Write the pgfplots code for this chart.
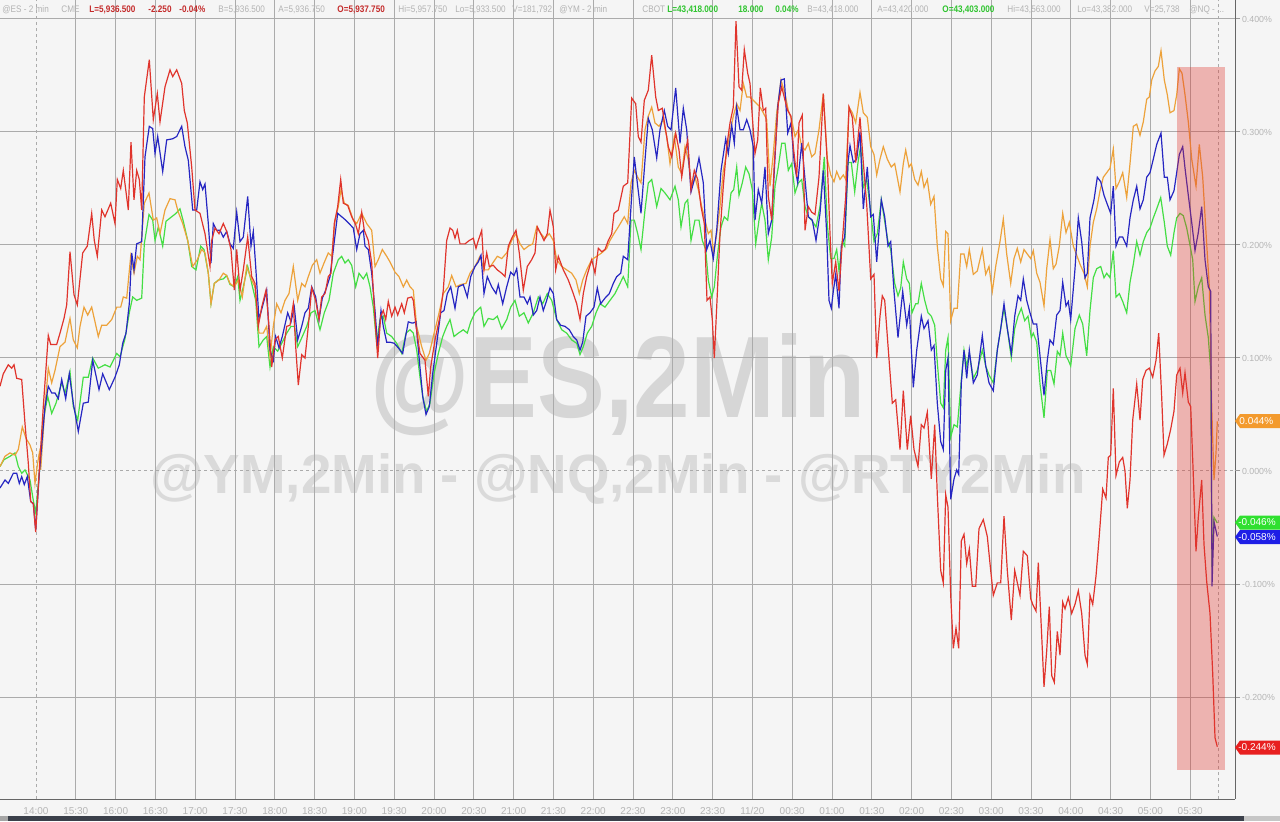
\documentclass[border=0pt]{standalone}
\usepackage{pgfplots}
\pgfplotsset{compat=1.18}
\usepackage{fontspec}
\setmainfont{Liberation Sans}
\definecolor{bg}{HTML}{F5F5F5}
\definecolor{gridc}{HTML}{ABABAB}
\definecolor{lblc}{HTML}{B5B5B5}
\definecolor{esred}{HTML}{E0342C}
\definecolor{rtyor}{HTML}{EDA23A}
\definecolor{nqblue}{HTML}{2626C2}
\definecolor{ymgreen}{HTML}{44DE44}
\definecolor{wm}{HTML}{D6D6D6}
\definecolor{wmb}{HTML}{DADADA}
\definecolor{hdrgray}{HTML}{B3B3B3}
\definecolor{hdrred}{HTML}{C42B2B}
\definecolor{hdrgreen}{HTML}{2FC42F}
\definecolor{barc}{HTML}{3B404A}
\definecolor{boxor}{HTML}{F39A2D}
\definecolor{boxgr}{HTML}{2FE02F}
\definecolor{boxbl}{HTML}{1E1EE6}
\definecolor{boxrd}{HTML}{E82020}
\newcommand{\hd}[1]{\scalebox{0.86}[1]{#1}}
\begin{document}
\begin{tikzpicture}
\path[use as bounding box] (0,0) rectangle (640pt,-410.5pt);
\begin{scope}[x=0.5pt,y=-0.5pt]
\fill[bg] (0,0) rectangle (1280,821);
\fill[barc] (8,816) rectangle (1244,821);
\fill[gray!70] (0,816) rectangle (8,821);
\fill[gray!45] (1244,816) rectangle (1280,821);
\node[anchor=base west, inner sep=0, text=wm] at (370,417) {\resizebox{247.5pt}{42pt}{\bfseries @ES,2Min}};
\node[anchor=base west, inner sep=0, text=wmb] at (150,493) {\resizebox{467.5pt}{20pt}{\bfseries @YM,2Min - @NQ,2Min - @RTY2Min}};
\end{scope}
\begin{axis}[
  at={(0pt,0pt)}, anchor=north west,
  x=0.5pt, y=565pt,
  xmin=0, xmax=1235, ymin=-0.2903, ymax=0.4168,
  axis x line*=bottom, axis y line*=right,
  axis line style={draw=black!60, line width=0.5pt},
  xtick={75.8,115.6,155.4,195.2,235,274.8,314.6,354.4,394.2,434,473.8,513.6,553.4,593.2,633,672.8,712.6,752.4,792.2,832,871.8,911.6,951.4,991.2,1031,1070.8,1110.6,1150.4,1190.2},
  xticklabels={15:30,16:00,16:30,17:00,17:30,18:00,18:30,19:00,19:30,20:00,20:30,21:00,21:30,22:00,22:30,23:00,23:30,11/20,00:30,01:00,01:30,02:00,02:30,03:00,03:30,04:00,04:30,05:00,05:30},
  extra x ticks={36,1218},
  extra x tick labels={14:00,{}},
  extra x tick style={grid style={dash pattern=on 1.5pt off 1.5pt}},
  ytick={-0.2,-0.1,0.1,0.2,0.3,0.4},
  yticklabels={-0.200\%,-0.100\%,0.100\%,0.200\%,0.300\%,0.400\%},
  extra y ticks={0},
  extra y tick labels={0.000\%},
  extra y tick style={grid style={dash pattern=on 1.5pt off 1.5pt}},
  grid=major,
  major grid style={draw=gridc, line width=0.5pt},
  tick align=outside, major tick length=2.5pt,
  xtick style={draw=none},
  ytick style={draw=black!40, line width=0.5pt},
  x tick label style={font=\fontsize{5}{6}\selectfont, text=lblc, yshift=2pt},
  y tick label style={font=\fontsize{4.4}{5}\selectfont, text=lblc, anchor=west, xshift=-2.5pt},
  every axis plot/.append style={line width=0.6pt, mark=none},
]
\addplot[ymgreen] coordinates {(0,0.004) (4,0.01) (10,0.013) (15,0.016) (18.3,0.004) (21.7,-0.002) (25,0.001) (30,-0.008) (33.3,-0.026) (35.7,-0.037) (39.3,-0.002) (43.3,0.045) (47.7,0.066) (51.7,0.051) (56,0.06) (61.7,0.078) (65,0.069) (70,0.088) (73.3,0.057) (77.7,0.045) (83.3,0.083) (88.3,0.083) (92.7,0.1) (98.3,0.091) (105,0.094) (110,0.092) (116.7,0.104) (120,0.101) (125,0.117) (129.3,0.14) (132.7,0.154) (136.7,0.151) (141.7,0.153) (144.3,0.201) (149,0.227) (152.7,0.222) (155,0.204) (158.3,0.216) (162.7,0.199) (166,0.221) (171.7,0.225) (176,0.228) (180,0.232) (183.3,0.221) (187.7,0.204) (191.7,0.181) (196,0.178) (200.7,0.199) (204,0.196)
(208.3,0.175) (211,0.148) (214.3,0.166) (218.3,0.169) (223.3,0.17) (226.7,0.173) (230,0.165) (234.3,0.163) (237.7,0.172) (240,0.151) (243.3,0.163) (247.7,0.181) (251.7,0.166) (255.7,0.151) (259,0.11) (263.3,0.116) (266.7,0.119) (270,0.092) (273.3,0.11) (277.7,0.106) (282.3,0.114) (286.7,0.122) (291,0.128) (294.3,0.128) (297.7,0.11) (302.3,0.119) (306.7,0.128) (311,0.14) (315,0.142) (320,0.125) (324.3,0.14) (329,0.151) (333.3,0.175) (338.3,0.187) (341.7,0.19) (345,0.184) (348.3,0.187) (351.7,0.182) (355.7,0.163) (359,0.175) (363.3,0.17) (366.7,0.175) (370,0.163) (373.3,0.145) (376.7,0.113) (380,0.134) (383.3,0.137) (386.7,0.122) (391.7,0.119) (396.7,0.113) (401.7,0.104) (406,0.122) (410,0.125) (413.3,0.122)
(416.7,0.107) (420,0.083) (423.3,0.063) (426.7,0.053) (430,0.06) (434,0.086) (438.3,0.104) (442.7,0.119) (446.7,0.128) (450,0.134) (454,0.119) (458.3,0.122) (463.3,0.125) (467.3,0.122) (470.7,0.132) (475,0.14) (480.7,0.145) (484,0.128) (488.3,0.135) (493.3,0.134) (497.3,0.137) (501.7,0.126) (506.7,0.134) (510.7,0.145) (515,0.151) (519.3,0.137) (524,0.14) (528.3,0.131) (533.3,0.14) (538.3,0.154) (542.7,0.148) (547.3,0.157) (551.7,0.151) (556.7,0.134) (561.7,0.125) (566.7,0.122) (571.7,0.116) (576.7,0.113) (580,0.103) (583.3,0.11) (587.3,0.122) (591.7,0.128) (596,0.14) (600,0.148) (605,0.145) (610,0.151) (615,0.157) (620,0.166)
(623.3,0.172) (627.7,0.163) (631,0.222) (634.3,0.222) (637.7,0.21) (641,0.196) (645,0.231) (648.3,0.255) (651.7,0.258) (654.3,0.246) (656.7,0.234) (661,0.25) (665,0.246) (670,0.24) (675,0.252) (678.3,0.24) (681,0.216) (685,0.237) (687.7,0.24) (691,0.204) (695,0.222) (699,0.222) (702.3,0.204) (705.7,0.196) (708.3,0.169) (711.7,0.154) (714.3,0.163) (717.7,0.193) (721,0.216) (724.3,0.225) (727.7,0.222) (731,0.246) (733.7,0.249) (736.7,0.269) (739,0.244) (742.3,0.255) (745.7,0.269) (749,0.263) (752.3,0.249) (755.7,0.201) (759,0.222) (761.7,0.237) (765,0.222) (768.3,0.187) (771.7,0.207) (775,0.252) (778.3,0.269) (781.7,0.29) (785,0.29) (788.3,0.266) (791.7,0.272) (795,0.246) (798.3,0.255) (801.7,0.258) (805,0.234) (808.3,0.225) (811.7,0.222) (816,0.216) (820,0.234) (824.3,0.278)
(827.3,0.218) (830.7,0.188) (834,0.188) (836.7,0.196) (839,0.177) (842.3,0.203) (844.7,0.199) (848,0.273) (851.3,0.273) (854.7,0.247) (858,0.273) (860.7,0.288) (863.3,0.251) (866.7,0.258) (870.7,0.229) (874,0.203) (877.3,0.21) (881.3,0.24) (884.7,0.221) (888,0.203) (890.7,0.196) (894.7,0.166) (898,0.155) (900.7,0.162) (903.3,0.185) (906.7,0.17) (909.3,0.166) (912,0.14) (915.7,0.148) (918,0.148) (921.3,0.166) (924.7,0.151) (928,0.14) (931.3,0.137) (934.7,0.129) (937.3,0.096) (940.7,0.06) (943.3,0.056) (945.7,0.107) (948,0.118) (950.7,0.03) (954,0.041) (957.3,0.039) (960.7,0.074) (964,0.107) (966.7,0.093) (969.3,0.104) (973.3,0.082) (977.3,0.089) (982.3,0.107) (985.7,0.093) (989,0.085) (993.3,0.078) (997.3,0.107) (1000.7,0.126) (1004,0.144) (1007.3,0.126) (1011.3,0.1) (1014.7,0.126) (1018,0.137) (1021.3,0.144) (1024.7,0.133) (1028,0.137) (1031.3,0.118)
(1033.3,0.122) (1036.7,0.114) (1040,0.077) (1044,0.047) (1047.3,0.089) (1050.7,0.089) (1054,0.077) (1057.3,0.106) (1060,0.102) (1062.7,0.122) (1066,0.102) (1068.3,0.098) (1070.7,0.093) (1075,0.126) (1079.3,0.138) (1082.7,0.13) (1086.7,0.102) (1090,0.142) (1093.3,0.171) (1096.7,0.179) (1100.7,0.181) (1104,0.171) (1106.7,0.175) (1110,0.171) (1113.3,0.195) (1116,0.154) (1119.3,0.157) (1122.7,0.15) (1126.7,0.14) (1130,0.167) (1133.3,0.183) (1136.7,0.203) (1140,0.191) (1143.3,0.203) (1146.7,0.211) (1150,0.215) (1153.3,0.224) (1156.7,0.232) (1160.7,0.242) (1164.3,0.22) (1167.3,0.199) (1170.7,0.191) (1174,0.211) (1176.7,0.224) (1180,0.228) (1183.3,0.226) (1186.7,0.215) (1189.3,0.203) (1192.7,0.187) (1195,0.15) (1198.3,0.163) (1201.7,0.171) (1205,0.138) (1208.3,0.118) (1210.7,0.089) (1212,-0.085) (1214,-0.041) (1217.3,-0.046)};
\addplot[rtyor] coordinates {(0,0.004) (5,0.013) (10,0.016) (15,0.014) (18.3,0.019) (22.3,0.039) (26,0.029) (30,0.023) (32.7,0.016) (35,-0.011) (37.3,0.005) (39.3,0.016) (40.7,0.001) (45,0.057) (48.3,0.091) (51.7,0.078) (55,0.089) (60,0.11) (65,0.114) (70,0.135) (73.3,0.116) (77.3,0.109) (80,0.128) (84,0.145) (87.7,0.138) (91.7,0.145) (98.3,0.119) (101.7,0.129) (106.7,0.129) (111.7,0.134) (116.7,0.145) (120.7,0.145) (123.3,0.154) (126.7,0.153) (130.7,0.19) (134,0.175) (137.3,0.19) (140,0.187) (144.3,0.237) (149,0.246) (153.3,0.222) (156.7,0.224) (160,0.21) (165,0.231) (170,0.241) (175,0.24) (178.3,0.229) (182.7,0.219) (187.7,0.204) (192.7,0.181) (197.3,0.187) (201.7,0.196) (205,0.193)
(208.3,0.175) (211,0.148) (214.3,0.166) (219,0.169) (223.3,0.175) (226.7,0.173) (230,0.166) (234.3,0.163) (238.3,0.169) (242.3,0.154) (246.7,0.181) (251.7,0.169) (255,0.163) (259,0.122) (263.3,0.122) (266.7,0.128) (270,0.101) (273.3,0.128) (276.7,0.148) (281,0.14) (285,0.151) (289,0.157) (293.3,0.181) (297.7,0.151) (301.7,0.166) (305,0.163) (308.3,0.172) (312.3,0.182) (316.7,0.187) (320,0.175) (324,0.184) (328.3,0.193) (331.7,0.19) (335,0.222) (338.3,0.234) (341,0.249) (344.3,0.237) (348.3,0.235) (353.3,0.222) (356.7,0.219) (361.7,0.228) (366.7,0.219) (371.7,0.213) (375,0.181) (378.3,0.187) (382.3,0.196) (386.7,0.19) (390,0.185) (395,0.176) (399,0.172) (403.3,0.163) (406.7,0.169) (410,0.163) (413.3,0.16)
(416.7,0.128) (421.7,0.11) (426,0.098) (429.3,0.104) (433.3,0.119) (438.3,0.137) (443.3,0.157) (448.3,0.163) (451.7,0.173) (456,0.163) (460.7,0.165) (466,0.166) (470,0.175) (475,0.181) (480,0.19) (484,0.178) (488.3,0.178) (492.7,0.184) (497.3,0.19) (501.7,0.188) (506.7,0.193) (511.7,0.204) (516,0.21) (520,0.201) (524,0.196) (528.3,0.199) (532.7,0.201) (536.7,0.216) (540.7,0.21) (545,0.206) (549.3,0.21) (553.3,0.204) (556.7,0.187) (561.7,0.181) (566.7,0.178) (571.7,0.175) (576,0.169) (579.3,0.157) (582.7,0.169) (586.7,0.178) (591.7,0.187) (596.7,0.19) (601.7,0.193) (606.7,0.197) (610,0.204) (614,0.21) (618.3,0.216)
(624.3,0.225) (627.7,0.219) (631,0.255) (634.3,0.266) (637.7,0.26) (641,0.255) (645,0.302) (648.3,0.314) (651.7,0.322) (655,0.308) (659,0.305) (663.3,0.311) (666.7,0.296) (670,0.272) (674.3,0.296) (678.3,0.269) (681.7,0.263) (685,0.287) (688.3,0.275) (691.7,0.252) (695,0.26) (698.3,0.249) (701.7,0.234) (705,0.222) (708.3,0.21) (711,0.213) (713.7,0.193) (716.7,0.21) (720,0.234) (723.3,0.266) (726.7,0.281) (730,0.299) (733.3,0.314) (736.7,0.325) (740,0.319) (743.3,0.343) (746.7,0.331) (750,0.331) (753.3,0.328) (756.7,0.325) (760,0.322) (763.3,0.317) (766.7,0.311) (770,0.252) (773.3,0.281) (776.7,0.317) (781,0.346) (785,0.334) (788.3,0.319) (791.7,0.311) (795,0.296) (798.3,0.302) (801.7,0.287) (805,0.284) (808.3,0.29) (811.7,0.278) (815,0.281) (819,0.302) (823.3,0.334)
(827.3,0.276) (830.7,0.262) (834,0.256) (836.7,0.265) (840,0.258) (843.3,0.262) (845.7,0.258) (849,0.322) (852.3,0.317) (855.7,0.308) (860,0.335) (863.3,0.317) (867.3,0.313) (870.7,0.287) (874,0.28) (876.7,0.262) (880,0.276) (883.3,0.287) (887.3,0.276) (891.3,0.269) (894.7,0.272) (900,0.247) (903.3,0.272) (905.7,0.284) (909,0.269) (911.3,0.272) (914.7,0.258) (918,0.253) (921.3,0.265) (924,0.251) (927.3,0.258) (930.7,0.236) (934,0.243) (937.3,0.199) (940.7,0.17) (943.3,0.164) (945.7,0.212) (948,0.21) (950.7,0.133) (954,0.144) (957.3,0.144) (960.7,0.192) (964,0.192) (966.7,0.181) (969.3,0.196) (973.3,0.174) (977.3,0.177) (982.3,0.196) (985.7,0.174) (989,0.181) (992.3,0.159) (995.7,0.181) (1000,0.203) (1003.3,0.223) (1006.7,0.192) (1010.7,0.166) (1014,0.188) (1017.3,0.197) (1020.7,0.185) (1024,0.196) (1027.3,0.192) (1030.7,0.188)
(1033.3,0.195) (1036.7,0.175) (1040,0.167) (1044,0.146) (1046.7,0.179) (1050,0.205) (1053.3,0.179) (1056,0.183) (1059.3,0.199) (1062.7,0.228) (1066,0.211) (1069.3,0.22) (1073.3,0.199) (1076.7,0.191) (1080,0.183) (1084,0.175) (1087.3,0.163) (1090,0.199) (1093.3,0.22) (1096.7,0.232) (1100,0.248) (1103.3,0.26) (1106.7,0.264) (1110,0.268) (1113.3,0.285) (1116,0.25) (1119.3,0.256) (1122.7,0.264) (1126.7,0.242) (1130,0.272) (1133.3,0.305) (1136.7,0.307) (1140,0.297) (1143.3,0.309) (1146.7,0.329) (1149.3,0.331) (1151.7,0.346) (1155,0.354) (1158.3,0.358) (1161,0.372) (1164.3,0.346) (1167.3,0.333) (1170,0.317) (1174,0.319) (1176.7,0.333) (1179.3,0.356) (1182,0.352) (1185,0.333) (1188.3,0.309) (1191.7,0.276) (1196,0.252) (1199.3,0.289) (1202.7,0.26) (1206,0.211) (1209.3,0.163) (1211.7,0.057) (1214,-0.008) (1216,0.016) (1217.3,0.044)};
\addplot[nqblue] coordinates {(0,-0.015) (5,-0.008) (8.3,-0.011) (13.3,-0.002) (16.7,-0.002) (19.3,-0.011) (21.7,-0.005) (24.3,-0.012) (27.3,-0.005) (30.7,-0.027) (33.3,-0.029) (35.7,-0.052) (39.3,-0.002) (45,0.057) (48.3,0.075) (51.7,0.069) (55,0.069) (58.3,0.064) (61.7,0.081) (65.7,0.064) (69.3,0.086) (73.3,0.06) (78.3,0.035) (83.3,0.06) (88.3,0.061) (92.7,0.098) (99,0.072) (102.7,0.086) (109.3,0.072) (115,0.083) (119.3,0.094) (122.7,0.113) (126,0.122) (129.3,0.148) (131.7,0.193) (134,0.178) (136.7,0.201) (141.7,0.203) (145,0.278) (149.3,0.305) (152.7,0.303) (155,0.281) (157.7,0.296) (162.7,0.265) (166.7,0.293) (172.7,0.294) (176.7,0.296) (181.7,0.305) (185,0.287) (188.3,0.275) (192.7,0.231) (196.7,0.231) (200,0.256) (202.7,0.249) (205,0.254)
(208.3,0.219) (211,0.184) (213.3,0.219) (216.7,0.213) (220,0.213) (223.3,0.207) (226.7,0.212) (230,0.201) (233.3,0.197) (236.7,0.229) (240,0.203) (243.3,0.207) (247.7,0.243) (251,0.199) (253.3,0.212) (255.7,0.181) (259,0.134) (262.3,0.145) (266.7,0.16) (270,0.107) (273.3,0.098) (275.7,0.119) (279,0.109) (282.3,0.119) (287.7,0.14) (291,0.132) (294.3,0.145) (297.7,0.116) (301.7,0.128) (305,0.14) (308.3,0.144) (311.7,0.163) (315.7,0.154) (319,0.134) (322.3,0.153) (325.7,0.16) (330,0.172) (333.3,0.196) (337.7,0.228) (341.7,0.225) (345.7,0.222) (349,0.219) (353.3,0.215) (356.7,0.196) (360,0.21) (363.3,0.213) (365,0.199) (368.3,0.196) (371.7,0.175) (375,0.142) (377.7,0.11) (381,0.142) (383.3,0.128) (386.7,0.114) (390,0.114) (394.3,0.113) (398.3,0.109) (402.7,0.104) (405,0.116) (408.3,0.132) (411.7,0.131)
(413.3,0.131) (416,0.132) (419.3,0.098) (422.7,0.066) (426,0.05) (429.3,0.057) (432.7,0.086) (436.7,0.113) (440.7,0.14) (444,0.142) (447.3,0.157) (450.7,0.163) (455,0.144) (458.3,0.163) (463.3,0.165) (467.3,0.154) (470.7,0.172) (475,0.181) (478.3,0.185) (481,0.191) (484,0.157) (487.3,0.172) (491.7,0.163) (496,0.157) (498.3,0.165) (502.7,0.148) (506.7,0.163) (510.7,0.176) (514,0.173) (516.7,0.179) (520,0.154) (524,0.154) (527.3,0.148) (530,0.154) (533.3,0.138) (536.7,0.142) (540,0.154) (543.3,0.142) (546.7,0.151) (550,0.162) (553.3,0.157) (556.7,0.134) (560.7,0.129) (565,0.128) (569.3,0.125) (573.3,0.119) (576.7,0.116) (580,0.107) (582.7,0.114) (586,0.137) (590,0.14) (594,0.145) (597.3,0.162) (600.7,0.148) (605,0.153) (609.3,0.157) (613.3,0.166) (616.7,0.172) (620.7,0.175)
(623.3,0.19) (627.7,0.187) (631,0.234) (634.3,0.278) (637.7,0.252) (641,0.228) (645,0.275) (648.3,0.312) (652.3,0.302) (656.7,0.277) (660,0.302) (664.3,0.319) (667.7,0.305) (671,0.302) (675.7,0.339) (680,0.29) (683.3,0.321) (686.7,0.302) (691,0.247) (695,0.26) (699,0.277) (703.3,0.255) (706.7,0.196) (710,0.204) (713.3,0.188) (716.7,0.213) (721,0.266) (725.7,0.294) (728.3,0.281) (731.7,0.306) (734.3,0.29) (736.7,0.322) (740,0.302) (743.3,0.302) (746.7,0.311) (750,0.302) (753.3,0.287) (755,0.222) (758.3,0.249) (761.7,0.237) (765,0.269) (768.3,0.21) (771.7,0.222) (774.3,0.266) (777.7,0.322) (781,0.346) (784.3,0.347) (787.7,0.299) (791,0.308) (794.3,0.272) (797.7,0.255) (801.7,0.29) (805,0.258) (808.3,0.225) (812.3,0.222) (816,0.204) (820,0.228) (823.3,0.266)
(826.7,0.21) (829,0.151) (831.3,0.144) (833.3,0.159) (835.7,0.174) (839,0.144) (841.3,0.199) (844.7,0.207) (848,0.273) (850,0.288) (853.3,0.273) (856.7,0.276) (860,0.3) (863.3,0.232) (867.3,0.269) (870.7,0.225) (873.3,0.227) (876.7,0.185) (881.3,0.24) (884.7,0.225) (888,0.199) (890.7,0.203) (894,0.159) (898,0.118) (902.7,0.159) (906.7,0.129) (909.3,0.144) (913.3,0.074) (916.7,0.107) (921.3,0.137) (924,0.126) (928,0.133) (931.3,0.107) (934,0.111) (937.3,0.06) (940.7,0.026) (943.3,0.019) (945.7,0.089) (948,0.1) (950.7,-0.025) (954,-0.007) (956.7,0.001) (958.7,-0.003) (961.3,0.078) (964,0.107) (966.7,0.082) (969.3,0.107) (973.3,0.078) (977.3,0.085) (982.3,0.12) (985.7,0.093) (989,0.078) (993.3,0.071) (997.3,0.107) (1000.7,0.126) (1004,0.148) (1007.3,0.126) (1011.3,0.104) (1014.7,0.137) (1018,0.155) (1020.7,0.151) (1023.3,0.17) (1026.7,0.151) (1030,0.14)
(1033.3,0.13) (1036.7,0.13) (1040,0.102) (1044,0.067) (1047.3,0.098) (1050,0.116) (1053.3,0.112) (1056.7,0.138) (1060,0.142) (1062.7,0.167) (1066,0.146) (1068.3,0.15) (1070.7,0.134) (1075,0.179) (1078.3,0.224) (1081.7,0.203) (1085,0.171) (1087.3,0.175) (1090,0.224) (1094,0.24) (1097.3,0.26) (1100.7,0.256) (1104,0.244) (1107.3,0.236) (1110.7,0.228) (1113.3,0.252) (1116,0.199) (1119.3,0.207) (1122.7,0.207) (1126.7,0.199) (1130,0.224) (1133.3,0.24) (1136.7,0.252) (1140,0.232) (1143.3,0.24) (1146.7,0.26) (1150,0.264) (1153.3,0.276) (1156.7,0.289) (1161,0.299) (1164.3,0.26) (1167.3,0.26) (1170,0.24) (1174,0.248) (1176.7,0.264) (1179.3,0.28) (1182.7,0.287) (1185,0.268) (1188.3,0.244) (1191.7,0.22) (1195,0.195) (1198.3,0.211) (1201.7,0.234) (1205,0.187) (1208.3,0.163) (1210.7,0.159) (1212,-0.102) (1214,-0.045) (1217.3,-0.058)};
\addplot[esred] coordinates {(0,0.075) (3.3,0.086) (8.3,0.094) (11.7,0.091) (14,0.094) (16.7,0.082) (21.7,0.081) (25,0.042) (28.3,0.007) (30.7,-0.027) (33.3,-0.029) (35.7,-0.054) (39.3,0.001) (43.3,0.057) (48.3,0.12) (50.7,0.112) (56.7,0.112) (60,0.122) (64,0.135) (66.7,0.147) (70,0.194) (74,0.156) (77.3,0.147) (82.7,0.193) (87.3,0.199) (91.7,0.228) (94.3,0.204) (97.3,0.19) (101.7,0.231) (105,0.225) (110.7,0.237) (115,0.219) (117.3,0.258) (120.7,0.25) (123.3,0.266) (128.3,0.231) (131,0.291) (134,0.24) (136.7,0.266) (139.3,0.258) (141.7,0.231) (144.3,0.331) (149.3,0.364) (153.3,0.311) (157.3,0.334) (160,0.309) (165,0.34) (170,0.355) (172.7,0.349) (176.7,0.355) (181.7,0.343) (184.3,0.319) (187.3,0.308) (191.7,0.269) (195,0.231) (200,0.228) (205,0.21)
(210,0.181) (211.7,0.204) (215,0.215) (219,0.21) (223.3,0.219) (226.7,0.212) (231,0.196) (234.3,0.16) (236.7,0.196) (240,0.16) (243.3,0.178) (247.7,0.207) (251.7,0.172) (255,0.166) (258.3,0.128) (261.7,0.145) (266,0.16) (269,0.128) (271.7,0.092) (275,0.116) (278.3,0.119) (282.3,0.1) (286.7,0.128) (290,0.129) (293.3,0.148) (295.7,0.11) (298.3,0.076) (301.7,0.103) (305,0.1) (308.3,0.128) (311.7,0.162) (315.7,0.151) (319,0.134) (321.7,0.154) (325,0.157) (328.3,0.172) (331,0.175) (334.3,0.219) (337.7,0.234) (340.7,0.258) (343.3,0.237) (347.7,0.235) (351.7,0.225) (355.7,0.218) (358.3,0.21) (361.7,0.229) (364.3,0.213) (368.3,0.204) (371.7,0.184) (375,0.134) (377.7,0.1) (380.7,0.137) (383.3,0.142) (385.7,0.134) (388.3,0.15) (391.7,0.137) (395,0.145) (397.7,0.138) (401.7,0.148) (404.3,0.14) (407.7,0.153) (411.7,0.154)
(413.3,0.151) (416,0.128) (420,0.104) (425,0.098) (428.3,0.066) (430.7,0.092) (435,0.116) (440,0.137) (443.3,0.16) (446.7,0.204) (450,0.215) (452.7,0.213) (455,0.206) (457.3,0.213) (460,0.201) (465,0.201) (469.3,0.204) (473.3,0.206) (476,0.197) (478.3,0.204) (481.7,0.213) (484,0.178) (486.7,0.193) (489.3,0.181) (493.3,0.182) (497.3,0.178) (501.7,0.175) (505,0.172) (508.3,0.199) (511.7,0.206) (516,0.213) (519.3,0.193) (523.3,0.16) (527.3,0.181) (531.7,0.187) (535,0.193) (537.3,0.216) (540.7,0.21) (544,0.204) (547.3,0.21) (550,0.231) (553.3,0.216) (555.7,0.178) (558.3,0.19) (563.3,0.178) (568.3,0.169) (573.3,0.157) (576.7,0.148) (580,0.134) (583.3,0.157) (586.7,0.172) (591.7,0.187) (595,0.175) (598.3,0.197) (601.7,0.194) (605,0.196) (608.3,0.204) (611.7,0.21) (614,0.228) (618.3,0.231)
(623.3,0.252) (627.7,0.255) (631.7,0.33) (635.7,0.325) (638.3,0.296) (641,0.291) (644.3,0.328) (648.3,0.337) (651.7,0.368) (655.7,0.331) (658.3,0.319) (662.3,0.321) (665,0.305) (668.3,0.287) (671.7,0.278) (675.7,0.299) (679,0.284) (681.7,0.26) (685,0.281) (687.7,0.293) (691,0.249) (694.3,0.266) (697.7,0.258) (701,0.234) (704.3,0.219) (707,0.151) (710,0.154) (712.3,0.134) (714.3,0.1) (716.7,0.145) (720,0.21) (723.3,0.252) (726.7,0.287) (730,0.308) (733.3,0.322) (736,0.398) (739,0.34) (741.7,0.337) (744.3,0.373) (747.7,0.352) (750,0.343) (752.3,0.314) (755,0.281) (757.7,0.293) (760.3,0.339) (763.3,0.319) (765.7,0.321) (768.3,0.243) (771.7,0.222) (774.3,0.272) (778.3,0.325) (781.7,0.34) (785,0.328) (787.7,0.319) (791,0.314) (793.3,0.287) (796.7,0.26) (799,0.308) (802.3,0.315) (805,0.213) (808.3,0.234) (811.7,0.229) (815,0.227) (819,0.26) (823.3,0.334)
(827.3,0.273) (830,0.21) (832.3,0.166) (835.7,0.185) (839,0.159) (842.3,0.203) (845.7,0.243) (849,0.322) (852.3,0.313) (855.7,0.273) (860,0.313) (863.3,0.273) (866.7,0.236) (870.7,0.17) (874,0.174) (876.7,0.1) (880,0.137) (882.3,0.155) (884.7,0.151) (888,0.111) (892.3,0.06) (895.7,0.063) (900,0.019) (903.3,0.071) (907.3,0.019) (910.7,0.049) (914,0.019) (918,0.004) (921.3,0.041) (924,0.038) (927.3,0.052) (931.3,-0.007) (934.7,0.041) (937.3,-0.021) (940.7,-0.088) (943.3,-0.099) (945.7,-0.021) (948,-0.032) (950.7,-0.11) (953.3,-0.157) (956,-0.139) (958.7,-0.157) (961.3,-0.062) (964,-0.056) (966.7,-0.082) (969.3,-0.069) (972.3,-0.102) (975.7,-0.102) (979,-0.051) (983.3,-0.043) (987.3,-0.058) (990.7,-0.088) (993.3,-0.11) (997.3,-0.099) (1000.7,-0.099) (1004,-0.04) (1007.3,-0.088) (1011.3,-0.132) (1014.7,-0.088) (1020,-0.11) (1023.3,-0.071) (1027.3,-0.075) (1030.7,-0.113)
(1032.7,-0.118) (1036,-0.124) (1038.3,-0.081) (1041.7,-0.146) (1044,-0.191) (1046.7,-0.159) (1049.3,-0.12) (1051.7,-0.181) (1054.3,-0.187) (1057.3,-0.142) (1060,-0.163) (1062.7,-0.116) (1065,-0.122) (1068.3,-0.112) (1071.7,-0.126) (1075,-0.118) (1078.3,-0.106) (1081.7,-0.126) (1085,-0.163) (1087.3,-0.171) (1090,-0.11) (1092.7,-0.118) (1096,-0.093) (1099.3,-0.057) (1102.7,-0.016) (1106,-0.024) (1108.3,0.012) (1110.7,0.014) (1113.3,0.073) (1116,-0.004) (1119.3,0.008) (1122.7,0.012) (1125,0) (1127.3,-0.033) (1130,-0.008) (1132.7,0.045) (1136.7,0.077) (1140,0.045) (1142.7,0.081) (1146,0.089) (1149.3,0.091) (1152.7,0.083) (1156,0.098) (1158.7,0.122) (1161.7,0.065) (1164,0.014) (1167.3,0.024) (1170.7,0.037) (1174,0.053) (1176.7,0.085) (1180,0.091) (1182.7,0.069) (1185,0.087) (1188.3,0.061) (1190.7,0.057) (1193.3,-0.004) (1196,-0.071) (1198.3,-0.041) (1201.7,-0.008) (1204,-0.065) (1206.7,-0.098) (1210,-0.126) (1212.7,-0.179) (1215,-0.236) (1217.3,-0.244)};
\end{axis}
\begin{scope}[x=0.5pt,y=-0.5pt]
\fill[esred, opacity=0.34] (1177,67) rectangle (1225,770);
% header
\begin{scope}[every node/.style={anchor=base west, inner sep=0, font=\fontsize{4.75}{5}\selectfont}]
\node[text=hdrgray] at (2,12) {\hd{@ES - 2 min}};
\node[text=hdrgray] at (61,12) {\hd{CME}};
\node[text=hdrred] at (89,12) {\hd{\bfseries L=5,936.500}};
\node[text=hdrred] at (148,12) {\hd{\bfseries -2.250}};
\node[text=hdrred] at (179,12) {\hd{\bfseries -0.04\%}};
\node[text=hdrgray] at (218,12) {\hd{B=5,936.500}};
\node[text=hdrgray] at (278,12) {\hd{A=5,936.750}};
\node[text=hdrred] at (337,12) {\hd{\bfseries O=5,937.750}};
\node[text=hdrgray] at (398,12) {\hd{Hi=5,957.750}};
\node[text=hdrgray] at (455,12) {\hd{Lo=5,933.500}};
\node[text=hdrgray] at (512,12) {\hd{V=181,792}};
\node[text=hdrgray] at (559,12) {\hd{@YM - 2 min}};
\node[text=hdrgray] at (642,12) {\hd{CBOT}};
\node[text=hdrgreen] at (667,12) {\hd{\bfseries L=43,418.000}};
\node[text=hdrgreen] at (738,12) {\hd{\bfseries 18.000}};
\node[text=hdrgreen] at (775,12) {\hd{\bfseries 0.04\%}};
\node[text=hdrgray] at (807,12) {\hd{B=43,418.000}};
\node[text=hdrgray] at (877,12) {\hd{A=43,420.000}};
\node[text=hdrgreen] at (942,12) {\hd{\bfseries O=43,403.000}};
\node[text=hdrgray] at (1007,12) {\hd{Hi=43,563.000}};
\node[text=hdrgray] at (1077,12) {\hd{Lo=43,382.000}};
\node[text=hdrgray] at (1144,12) {\hd{V=25,738}};
\node[text=hdrgray] at (1189,12) {\hd{@NQ - ...}};
\end{scope}
% value boxes
\fill[boxor] (1235,421) -- (1240,414) -- (1280,414) -- (1280,428) -- (1240,428) -- cycle;
\node[anchor=west, inner sep=0, text=white, font=\fontsize{5}{6}\selectfont] at (1239,421) {0.044\%};
\fill[boxgr] (1235,522.5) -- (1240,515.5) -- (1280,515.5) -- (1280,529.5) -- (1240,529.5) -- cycle;
\node[anchor=west, inner sep=0, text=white, font=\fontsize{5}{6}\selectfont] at (1238,522.5) {-0.046\%};
\fill[boxbl] (1235,537) -- (1240,530) -- (1280,530) -- (1280,544) -- (1240,544) -- cycle;
\node[anchor=west, inner sep=0, text=white, font=\fontsize{5}{6}\selectfont] at (1238,537) {-0.058\%};
\fill[boxrd] (1235,747.5) -- (1240,740.5) -- (1280,740.5) -- (1280,754.5) -- (1240,754.5) -- cycle;
\node[anchor=west, inner sep=0, text=white, font=\fontsize{5}{6}\selectfont] at (1238,747.5) {-0.244\%};
\end{scope}
\end{tikzpicture}
\end{document}
